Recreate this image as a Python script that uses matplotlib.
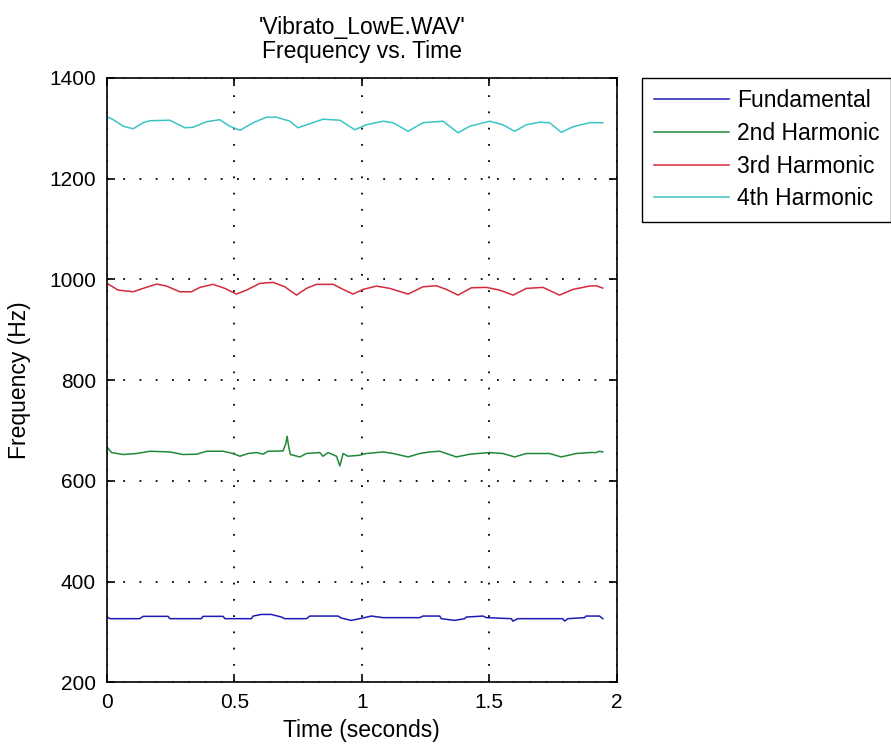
import numpy as np
import matplotlib.pyplot as plt

plt.rcParams['font.family'] = ['Liberation Sans', 'DejaVu Sans']

# values (time in s, frequency in Hz)
t_fund = [0.00, 0.012, 0.129, 0.142, 0.240, 0.247, 0.371, 0.377, 0.456, 0.463,
          0.567, 0.574, 0.606, 0.645, 0.685, 0.698, 0.783, 0.796, 0.907, 0.920,
          0.959, 0.992, 1.038, 1.084, 1.227, 1.240, 1.306, 1.312, 1.365, 1.404,
          1.410, 1.476, 1.489, 1.587, 1.593, 1.613, 1.789, 1.796, 1.809, 1.874,
          1.880, 1.933, 1.946]
f_fund = [329.6, 326.4, 326.4, 331.0, 331.0, 326.4, 326.4, 331.0, 331.0, 326.4,
          326.4, 331.6, 334.8, 334.8, 329.6, 326.4, 326.4, 331.6, 331.6, 327.6,
          323.0, 326.4, 331.6, 328.4, 328.4, 331.6, 331.6, 326.4, 323.0, 326.4,
          329.6, 331.6, 328.4, 326.4, 321.6, 326.4, 326.4, 321.6, 326.4, 328.4,
          331.6, 331.6, 326.4]

t_h2 = [0.00, 0.018, 0.064, 0.116, 0.169, 0.247, 0.299, 0.352, 0.391, 0.456,
        0.495, 0.522, 0.554, 0.587, 0.613, 0.632, 0.691, 0.702, 0.707, 0.713,
        0.720, 0.757, 0.783, 0.835, 0.848, 0.868, 0.901, 0.914, 0.927, 0.946,
        0.992, 1.018, 1.084, 1.123, 1.182, 1.227, 1.267, 1.306, 1.332, 1.371,
        1.424, 1.502, 1.554, 1.600, 1.646, 1.737, 1.783, 1.842, 1.894, 1.920,
        1.933, 1.946]
f_h2 = [667.4, 656.2, 652.3, 654.3, 658.8, 657.4, 652.3, 652.9, 658.8, 658.8,
        654.3, 648.9, 654.3, 656.2, 652.9, 658.8, 659.4, 674.1, 688.6, 668.8,
        652.3, 647.5, 654.3, 656.2, 648.9, 656.2, 648.9, 629.6, 654.3, 648.9,
        650.9, 654.3, 657.4, 654.3, 647.5, 654.3, 657.4, 658.8, 654.3, 647.5,
        652.9, 656.2, 654.3, 647.5, 654.3, 654.3, 647.5, 654.3, 656.2, 656.2,
        658.8, 657.4]

t_h3 = [0.005, 0.044, 0.103, 0.142, 0.195, 0.234, 0.286, 0.332, 0.365, 0.417,
        0.463, 0.508, 0.548, 0.600, 0.652, 0.698, 0.744, 0.783, 0.822, 0.888,
        0.927, 0.966, 1.005, 1.058, 1.110, 1.182, 1.240, 1.293, 1.332, 1.378,
        1.430, 1.489, 1.541, 1.594, 1.646, 1.711, 1.776, 1.829, 1.894, 1.920,
        1.946]
f_h3 = [990.7, 978.7, 975.4, 982.1, 990.7, 986.7, 975.4, 975.4, 984.1, 990.1,
        982.1, 970.8, 978.7, 992.1, 994.0, 985.3, 968.8, 982.1, 990.1, 990.1,
        980.1, 970.8, 980.1, 986.7, 982.1, 970.8, 985.3, 987.3, 980.1, 968.8,
        983.3, 984.1, 978.7, 968.8, 982.1, 984.1, 968.8, 980.1, 986.7, 987.3,
        982.7]

t_h4 = [0.005, 0.025, 0.064, 0.103, 0.142, 0.169, 0.247, 0.306, 0.338, 0.391,
        0.443, 0.482, 0.522, 0.574, 0.626, 0.665, 0.718, 0.750, 0.796, 0.848,
        0.914, 0.973, 1.018, 1.084, 1.123, 1.182, 1.240, 1.319, 1.378, 1.424,
        1.463, 1.502, 1.554, 1.600, 1.646, 1.698, 1.737, 1.783, 1.829, 1.894,
        1.946]
f_h4 = [1322, 1317, 1304, 1299, 1311, 1315, 1316, 1301, 1302, 1313,
        1317, 1304, 1296, 1311, 1322, 1322, 1314, 1301, 1309, 1318,
        1316, 1297, 1307, 1314, 1311, 1294, 1311, 1314, 1291, 1304,
        1309, 1314, 1307, 1294, 1307, 1312, 1311, 1292, 1303, 1311,
        1311]

labels = ['Fundamental', '2nd Harmonic', '3rd Harmonic', '4th Harmonic']
colors = ['#1c1cb4', '#1f8a3a', '#d42a3c', '#3cc4c4']

fig = plt.figure(figsize=(8.91, 7.49), dpi=100)
ax = fig.add_axes([0.120, 0.089, 0.572, 0.807])

for t, f, lab, c in zip([t_fund, t_h2, t_h3, t_h4], [f_fund, f_h2, f_h3, f_h4],
                        labels, colors):
    ax.plot(t, f, color=c, lw=1.1, label=lab)

ax.set_xlim(0, 2)
ax.set_ylim(200, 1400)
ax.set_xticks([0, 0.5, 1, 1.5, 2])
ax.set_xticklabels(['0', '0.5', '1', '1.5', '2'])
ax.set_yticks(np.arange(200, 1401, 200))
ax.grid(True, color='black', linestyle=(0, (1, 8)), linewidth=1.3)
ax.tick_params(direction='in', length=6, width=1.2, top=True, right=True,
               labelsize=15, pad=8)
for s in ax.spines.values():
    s.set_linewidth(1.2)

ax.set_xlabel('Time (seconds)', fontsize=16.5, labelpad=5)
ax.set_ylabel('Frequency (Hz)', fontsize=16.5, labelpad=13)
ax.set_title("'Vibrato_LowE.WAV'\nFrequency vs. Time", fontsize=16.5,
             linespacing=1.1, pad=14)

leg = ax.legend(loc='upper left', bbox_to_anchor=(1.05, 1.0), fontsize=16.5,
                handlelength=3.3, handletextpad=0.35, borderpad=0.5,
                labelspacing=0.42, fancybox=False, framealpha=1,
                edgecolor='black', borderaxespad=0)
leg.get_frame().set_linewidth(1.0)

fig.savefig('out.png', dpi=100)
